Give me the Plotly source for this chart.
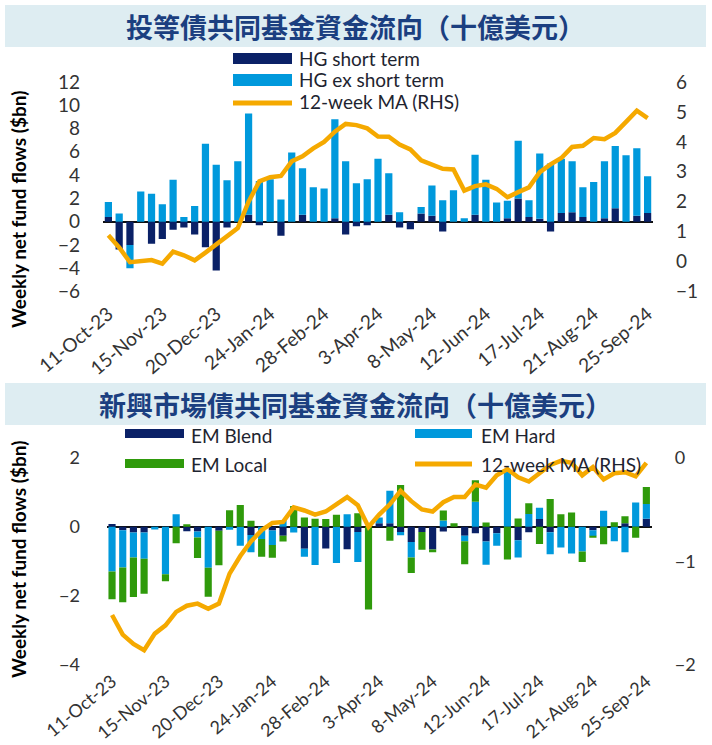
import pandas as pd
import plotly.graph_objects as go

# ---------------- data ----------------
WEEKS = [d.strftime("%-d-%b-%y") for d in pd.date_range("2023-10-11", periods=51, freq="7D")]
TICK_LABELS = ["11-Oct-23", "15-Nov-23", "20-Dec-23", "24-Jan-24", "28-Feb-24", "3-Apr-24",
               "8-May-24", "12-Jun-24", "17-Jul-24", "21-Aug-24", "25-Sep-24"]

HG_SHORT = [0.4, -2.4, -2.0, 0.0, -1.9, -1.5, -0.7, -0.5, -1.1, -2.2,
            -4.2, -0.5, 0.0, 0.6, -0.3, 0.0, -1.2, 0.0, 0.6, 0.0,
            0.0, 0.3, -1.1, -0.4, -0.3, 0.0, 0.6, -0.5, -0.65, 0.7,
            0.5, -0.85, 0.0, 0.0, 0.6, 0.0, 0.0, 0.3, 2.0, 0.4,
            0.25, -0.85, 0.75, 0.8, 0.4, 0.0, 0.3, 1.15, 0.0, 0.5,
            0.75]
HG_EX = [1.3, 0.7, -2.0, 2.6, 2.4, 1.5, 3.6, 0.4, 1.35, 6.7,
         4.9, 3.55, 5.2, 8.7, 3.5, 3.65, 1.9, 5.95, 4.0, 2.95,
         2.85, 8.5, 5.2, 3.3, 3.65, 5.4, 3.55, 0.8, 0.0, 0.56,
         2.6, 1.85, 2.7, 0.3, 5.15, 3.6, 1.65, 1.5, 4.95, 1.45,
         5.6, 5.0, 4.65, 4.4, 2.55, 3.4, 4.9, 5.35, 5.7, 5.8,
         3.15]
HG_MA = [0.88, 0.47, -0.02, 0.0, 0.05, -0.07, 0.33, 0.21, 0.04, 0.3,
         0.58, 0.86, 1.12, 2.0, 2.68, 2.82, 2.86, 3.35, 3.52, 3.78,
         4.0, 4.34, 4.6, 4.56, 4.45, 4.18, 4.17, 3.91, 3.75, 3.38,
         3.24, 3.1, 3.08, 2.37, 2.52, 2.58, 2.43, 2.15, 2.32, 2.48,
         2.99, 3.25, 3.46, 3.83, 3.87, 4.13, 4.09, 4.3, 4.67, 5.04,
         4.79]

EM_BLEND = [0.08, -0.10, -0.17, -0.17, 0.0, 0.0, 0.0, -0.13, -0.14, 0.0,
            -0.12, 0.0, 0.0, -0.24, 0.0, -0.11, -0.26, 0.0, -0.64, 0.0,
            -0.63, 0.0, -0.65, -0.15, 0.0, 0.10, 0.10, -0.15, -0.44, -0.15,
            -0.66, -0.14, 0.0, -0.26, -0.19, -0.43, -0.19, 0.0, -0.39, -0.16,
            0.22, -0.16, 0.0, 0.0, 0.0, -0.10, 0.0, 0.0, 0.10, 0.0,
            0.23]
EM_HARD = [-1.30, -1.08, -0.72, -0.76, -0.08, -1.38, 0.36, 0.0, -0.17, -1.19,
           0.0, -0.09, -0.55, -0.50, -0.36, -0.42, 0.19, -0.17, -0.23, -1.11,
           0.0, -1.05, 0.36, -0.87, 0.0, 0.17, 0.94, -0.10, -0.45, 0.0,
           0.0, 0.18, 0.0, -0.16, 0.72, -0.67, -0.36, 1.62, -0.50, 0.37,
           0.33, -0.64, -0.60, -0.78, -0.72, -0.17, 0.46, -0.42, -0.74, 0.70,
           0.43]
EM_LOCAL = [-0.80, -1.01, -1.15, -1.01, 0.0, -0.20, -0.48, 0.07, -0.60, -0.84,
            -1.00, 0.48, 0.63, 0.17, -0.51, -0.37, -0.17, 0.60, 0.27, 0.23,
            0.22, 0.35, 0.0, 0.39, -2.40, 0.0, -0.41, 1.21, -0.45, -0.52,
            -0.08, 0.29, 0.10, -0.67, 0.63, 0.12, 0.0, -0.95, 0.24, 0.31,
            -0.50, 0.80, 0.36, 0.41, -0.30, -0.05, -0.51, 0.13, 0.20, -0.32,
            0.49]
EM_MA = [-1.52, -1.71, -1.80, -1.86, -1.70, -1.62, -1.49, -1.43, -1.41, -1.46,
         -1.41, -1.12, -0.95, -0.81, -0.70, -0.63, -0.62, -0.48, -0.51, -0.55,
         -0.52, -0.45, -0.38, -0.46, -0.67, -0.55, -0.45, -0.32, -0.42, -0.50,
         -0.52, -0.43, -0.38, -0.38, -0.26, -0.29, -0.17, -0.11, -0.19, -0.23,
         -0.15, -0.07, -0.03, -0.05, -0.17, -0.09, -0.21, -0.15, -0.14, -0.18,
         -0.05]

TITLE_TOP = "投等債共同基金資金流向（十億美元）"
TITLE_BOTTOM = "新興市場債共同基金資金流向（十億美元）"
YTITLE = "Weekly net fund flows ($bn)"

# ---------------- styles ----------------
W, H = 712, 745
NAVY = "#0a2167"
BLUE = "#0099dc"
GREEN = "#2f9a0b"
ORANGE = "#f5a900"
BAND = "#deedf2"
TITLE_COLOR = "#1b3f80"
TICKFONT = dict(family="Lato, Open Sans, sans-serif", size=19, color="#333333")
LEGFONT = dict(family="Lato, Open Sans, sans-serif", size=19, color="#1e2430")


def px(x):
    return x / W


def py(y):
    return 1 - y / H


fig = go.Figure()

# top panel
fig.add_trace(go.Bar(x=WEEKS, y=HG_SHORT, marker=dict(color=NAVY, line=dict(width=0)),
                     xaxis="x", yaxis="y", name="HG short term"))
fig.add_trace(go.Bar(x=WEEKS, y=HG_EX, marker=dict(color=BLUE, line=dict(width=0)),
                     xaxis="x", yaxis="y", name="HG ex short term"))
fig.add_trace(go.Scatter(x=WEEKS, y=HG_MA, mode="lines", line=dict(color=ORANGE, width=4.5),
                         xaxis="x", yaxis="y2", name="12-week MA (RHS)"))

# bottom panel
fig.add_trace(go.Bar(x=WEEKS, y=EM_BLEND, marker=dict(color=NAVY, line=dict(width=0)),
                     xaxis="x2", yaxis="y3", name="EM Blend"))
fig.add_trace(go.Bar(x=WEEKS, y=EM_HARD, marker=dict(color=BLUE, line=dict(width=0)),
                     xaxis="x2", yaxis="y3", name="EM Hard"))
fig.add_trace(go.Bar(x=WEEKS, y=EM_LOCAL, marker=dict(color=GREEN, line=dict(width=0)),
                     xaxis="x2", yaxis="y3", name="EM Local"))
fig.add_trace(go.Scatter(x=WEEKS, y=EM_MA, mode="lines", line=dict(color=ORANGE, width=4.5),
                         xaxis="x2", yaxis="y4", name="12-week MA (RHS)"))

xcommon = dict(type="category", categoryorder="array", categoryarray=WEEKS,
               range=[-0.5, len(WEEKS) - 0.5], tickmode="array",
               tickvals=WEEKS[::5], ticktext=TICK_LABELS, tickangle=-40,
               showgrid=False, showline=False, zeroline=False, ticks="", automargin=False)
ycommon = dict(showgrid=False, showline=False, ticks="", tickfont=TICKFONT,
               ticklabelstandoff=22, automargin=False)

fig.update_layout(
    width=W, height=H, margin=dict(l=0, r=0, t=0, b=0, autoexpand=False),
    paper_bgcolor="white", plot_bgcolor="rgba(0,0,0,0)",
    barmode="relative", bargap=0.33, showlegend=False,
    xaxis=dict(xcommon, domain=[px(103), px(653)], anchor="y", ticklabelstandoff=7,
               tickfont=dict(family="Lato, Open Sans, sans-serif", size=19, color="#333333")),
    yaxis=dict(ycommon, domain=[py(291.5), py(82)], range=[-6, 12], dtick=2,
               tick0=0, zeroline=True, zerolinecolor="#111111", zerolinewidth=2),
    yaxis2=dict(ycommon, overlaying="y", side="right", anchor="x", range=[-1, 6],
                dtick=1, tick0=0, zeroline=False),
    xaxis2=dict(xcommon, domain=[px(106.7), px(651.7)], anchor="y3", ticklabelstandoff=2,
                tickfont=dict(family="Lato, Open Sans, sans-serif", size=18, color="#333333")),
    yaxis3=dict(ycommon, domain=[py(664.7), py(457.7)], range=[-4, 2], dtick=2,
                tick0=0, zeroline=True, zerolinecolor="#111111", zerolinewidth=2,
                tickfont=dict(TICKFONT, size=18)),
    yaxis4=dict(ycommon, overlaying="y3", side="right", anchor="x2", range=[-2, 0],
                dtick=1, tick0=0, zeroline=False, tickfont=dict(TICKFONT, size=18)),
)

shapes = []
annotations = []

# title bands
for (y0, y1, text) in [(5, 47, TITLE_TOP), (383, 425, TITLE_BOTTOM)]:
    shapes.append(dict(type="rect", xref="paper", yref="paper", x0=px(5), x1=px(706),
                       y0=py(y1), y1=py(y0), fillcolor=BAND, line=dict(width=0), layer="below"))
    annotations.append(dict(xref="paper", yref="paper", x=px(355), y=py((y0 + y1) / 2),
                            text=text, showarrow=False, xanchor="center", yanchor="middle",
                            font=dict(family="Noto Sans CJK TC", size=27, color=TITLE_COLOR,
                                      weight="bold")))

# y-axis titles
for yc in (210, 560):
    annotations.append(dict(xref="paper", yref="paper", x=px(18), y=py(yc), text=YTITLE,
                            textangle=-90, showarrow=False, xanchor="center", yanchor="middle",
                            font=dict(family="Lato, sans-serif", size=19, color="#000000",
                                      weight="bold")))


def leg_rect(x0, x1, y0, y1, color):
    shapes.append(dict(type="rect", xref="paper", yref="paper", x0=px(x0), x1=px(x1),
                       y0=py(y1), y1=py(y0), fillcolor=color, line=dict(width=0)))


def leg_line(x0, x1, y, color):
    shapes.append(dict(type="line", xref="paper", yref="paper", x0=px(x0), x1=px(x1),
                       y0=py(y), y1=py(y), line=dict(color=color, width=5)))


def leg_text(x, y, text):
    annotations.append(dict(xref="paper", yref="paper", x=px(x), y=py(y), text=text,
                            showarrow=False, xanchor="left", yanchor="middle", font=LEGFONT))


# top legend
leg_rect(233, 292, 53, 64, NAVY)
leg_text(297, 58, "HG short term")
leg_rect(233, 292, 74, 86, BLUE)
leg_text(297, 80, "HG ex short term")
leg_line(233, 292, 103, ORANGE)
leg_text(297, 102, "12-week MA (RHS)")

# bottom legend
leg_rect(125, 184, 429, 438, NAVY)
leg_text(189, 435, "EM Blend")
leg_rect(415, 472, 429, 438, BLUE)
leg_text(479, 435, "EM Hard")
leg_rect(125, 184, 459, 468, GREEN)
leg_text(189, 464, "EM Local")
leg_line(415, 472, 464, ORANGE)
leg_text(479, 464, "12-week MA (RHS)")

fig.update_layout(shapes=shapes, annotations=annotations)

fig.write_html("out.html")
